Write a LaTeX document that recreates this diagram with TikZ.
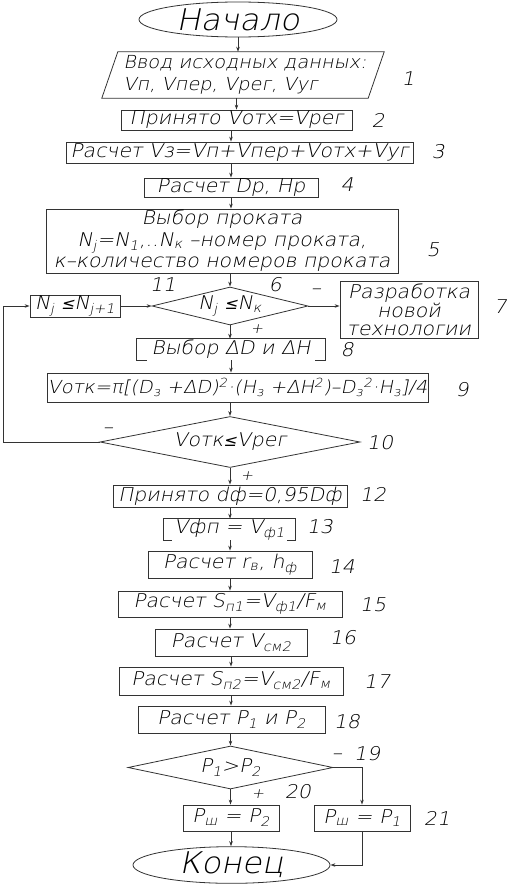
\documentclass[tikz,border=0pt]{standalone}
\usepackage{fontspec}
\newfontfamily\gostfont{DejaVu Sans ExtraLight}[FakeStretch=1.08,FakeSlant=0.2]
\newfontfamily\symfont{DejaVu Sans}[FakeStretch=1.0,FakeSlant=0.2]
\usetikzlibrary{shapes.geometric,arrows.meta}
\newcommand\gtxt{\gostfont\fontsize{19}{22}\selectfont}
\newcommand\gbig{\gostfont\fontsize{30}{30}\selectfont}
\newcommand\sbs[1]{\textsubscript{#1}}
\newcommand\sps[1]{\textsuperscript{#1}}
\newcommand\lesym{{\symfont\fontsize{16}{16}\selectfont ≤}}
\tikzset{
  ln/.style={draw=black!80, line width=0.8bp},
  arr/.style={ln, -{Stealth[length=5bp,width=3.5bp]}},
  box/.style={ln, rectangle, inner sep=0pt, font=\gtxt, align=center},
  obox/.style={rectangle, inner sep=0pt, font=\gtxt, align=center},
  term/.style={ln, ellipse, inner sep=0pt, font=\gbig},
  diam/.style={ln, diamond, inner sep=0pt},
  dtext/.style={inner sep=0pt, font=\gtxt},
  lab/.style={inner sep=0pt, font=\gtxt},
  sgn/.style={inner sep=0pt, font=\gostfont\fontsize{14}{14}\selectfont}
}
\begin{document}
\begin{tikzpicture}[x=1bp,y=-1bp]
\useasboundingbox (0,0) rectangle (510,885);

% nodes
\node[term, minimum width=198bp, minimum height=35bp] (start) at (238,19.5) {Начало};
\node[obox, minimum width=262bp, minimum height=46bp, align=left, font=\gostfont\fontsize{18}{22}\selectfont] (in1) at (245,75) {Ввод исходных данных:\\Vп, Vпер, Vрег, Vуг};
\draw[ln] ([xshift=4bp]in1.north west) -- ([xshift=8bp]in1.north east) -- ([xshift=-8bp]in1.south east) -- ([xshift=-12bp]in1.south west) -- cycle;
\node[box, minimum width=231bp, minimum height=20bp] (b2) at (236.5,120) {Принято Vотх=Vрег};
\node[box, minimum width=347bp, minimum height=21bp] (b3) at (239.5,152.5) {Расчет Vз=Vп+Vпер+Vотх+Vуг};
\node[box, minimum width=174bp, minimum height=19bp] (b4) at (231,187.5) {Расчет Dр, Hр};
\node[box, minimum width=352bp, minimum height=64bp, font=\gostfont\fontsize{19}{21.5}\selectfont] (b5) at (222,241) {Выбор проката\\N\sbs{j}=N\sbs{1},..N\sbs{к} –номер проката,\\к–количество номеров проката};
\node[diam, minimum width=156bp, minimum height=38bp] (d6) at (230,306) {};
\node[dtext] (d6t) at (d6) {N\sbs{j} \lesym N\sbs{к}};
\node[box, minimum width=90bp, minimum height=22bp] (b11) at (75,306) {N\sbs{j} \lesym N\sbs{j+1}};
\node[box, minimum width=138bp, minimum height=57bp, font=\gostfont\fontsize{19}{18}\selectfont] (b7) at (409,309.5) {Разработка\\новой\\технологии};
\node[obox, minimum width=188bp, minimum height=21bp] (b8) at (231,349.5) {Выбор ΔD и ΔH};
\draw[ln] ([xshift=10bp]b8.south west) -- (b8.south west) -- (b8.north west) -- (b8.north east) -- (b8.south east) -- ([xshift=-10bp]b8.south east);
\node[box, minimum width=381bp, minimum height=29bp, font=\gostfont\fontsize{18}{22}\selectfont] (b9) at (237.5,387.5) {Vотк=π[(D\sbs{з} +ΔD)\sps{2}·(H\sbs{з} +ΔH\sps{2})–D\sbs{з}\sps{2}·H\sbs{з}]/4};
\node[diam, minimum width=260bp, minimum height=51bp] (d10) at (230,442) {};
\node[dtext] (d10t) at (d10) {Vотк\lesym Vрег};
\node[box, minimum width=234bp, minimum height=22bp] (b12) at (230,496) {Принято dф=0,95Dф};
\node[obox, minimum width=131bp, minimum height=21bp] (b13) at (229.5,529.5) {Vфп = V\sbs{ф1}};
\draw[ln] ([xshift=8bp]b13.south west) -- (b13.south west) -- (b13.north west) -- (b13.north east) -- (b13.south east) -- ([xshift=-8bp]b13.south east);
\node[box, minimum width=164bp, minimum height=27bp] (b14) at (230,564.5) {Расчет r\sbs{в}, h\sbs{ф}};
\node[box, minimum width=224bp, minimum height=26bp] (b15) at (230,604) {Расчет S\sbs{п1}=V\sbs{ф1}/F\sbs{м}};
\node[box, minimum width=152bp, minimum height=27bp] (b16) at (231,642.5) {Расчет V\sbs{см2}};
\node[box, minimum width=224bp, minimum height=28bp] (b17) at (231,681) {Расчет S\sbs{п2}=V\sbs{см2}/F\sbs{м}};
\node[box, minimum width=187bp, minimum height=27bp] (b18) at (231.5,719.5) {Расчет P\sbs{1} и P\sbs{2}};
\node[diam, minimum width=205bp, minimum height=43bp] (d19) at (230.5,767.5) {};
\node[dtext] (d19t) at (d19) {P\sbs{1}>P\sbs{2}};
\node[box, minimum width=96bp, minimum height=26bp] (b20) at (231,818) {P\sbs{ш} = P\sbs{2}};
\node[box, minimum width=96bp, minimum height=26bp] (b21) at (362,818) {P\sbs{ш} = P\sbs{1}};
\node[term, minimum width=197bp, minimum height=36bp] (end) at (231.5,865) {Конец};

% labels
\node[lab] (n1) at (408,79) {1};
\node[lab] (n2) at (378,120) {2};
\node[lab] (n3) at (438,152) {3};
\node[lab] (n4) at (347,185) {4};
\node[lab] (n5) at (433,250) {5};
\node[lab] (n6) at (275,285) {6};
\node[lab] (m6) at (316,292) {–};
\node[lab] (n7) at (500,307) {7};
\node[lab] (n11) at (163,285) {11};
\node[sgn] (p6) at (257,329) {+};
\node[lab] (n8) at (347,350) {8};
\node[lab] (n9) at (462,390) {9};
\node[lab] (n10) at (380,443) {10};
\node[lab] (m10) at (108,431) {–};
\node[sgn] (p10) at (247,476) {+};
\node[lab] (n12) at (373,494) {12};
\node[lab] (n13) at (320,527) {13};
\node[lab] (n14) at (342,567) {14};
\node[lab] (n15) at (373,605) {15};
\node[lab] (n16) at (343,638) {16};
\node[lab] (n17) at (377,682) {17};
\node[lab] (n18) at (347,722) {18};
\node[lab] (m19) at (337,757) {–};
\node[lab] (n19) at (367,754) {19};
\node[sgn] (p19) at (258,794) {+};
\node[lab] (n20) at (298,792) {20};
\node[lab] (n21) at (437,818) {21};

% connectors
\coordinate (lp) at (3,442);
\draw[arr] (start.south) -- (start.south |- in1.north);
\draw[arr] (in1.south -| b2) -- (b2.north);
\draw[arr] (b2.south -| 231,0) -- (b3.north -| 231,0);
\draw[arr] (b3.south -| b4) -- (b4.north);
\draw[arr] (b4.south) -- (b4.south |- b5.north);
\draw[arr] (b5.south -| d6) -- (d6.north);
\draw[arr] (d6.east) -- (d6.east -| b7.west);
\draw[arr] (b11.east) -- (d6.west);
\draw[arr] (d6.south) -- (d6.south |- b8.north);
\draw[arr] (b8.south) -- (b8.south |- b9.north);
\draw[arr] (b9.south -| d10) -- (d10.north);
\draw[ln] (d10.west) -- (lp);
\draw[arr] (lp) |- (b11.west);
\draw[arr] (d10.south) -- (d10.south |- b12.north);
\draw[arr] (b12.south) -- (b12.south |- b13.north);
\draw[arr] (b13.south -| b14) -- (b14.north);
\draw[arr] (b14.south) -- (b14.south |- b15.north);
\draw[arr] (b15.south) -- (b15.south |- b16.north);
\draw[arr] (b16.south) -- (b16.south |- b17.north);
\draw[arr] (b17.south) -- (b17.south |- b18.north);
\draw[arr] (b18.south -| d19) -- (d19.north);
\draw[arr] (d19.south) -- (d19.south |- b20.north);
\draw[arr] (d19.east) -| (b21.north);
\draw[arr] (b20.south) -- (b20.south |- end.north);
\draw[arr] (b21.south) |- (end.east);
\end{tikzpicture}
\end{document}
